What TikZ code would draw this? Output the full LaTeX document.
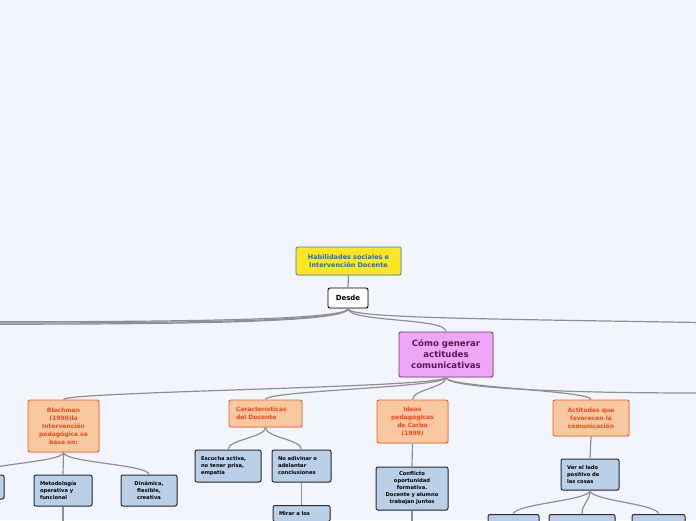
\documentclass[tikz,border=0pt]{standalone}
\usepackage{fontspec}
\setmainfont{DejaVu Sans}
\usetikzlibrary{shadows}
\definecolor{bg}{HTML}{F3F5FE}
\definecolor{habfill}{HTML}{FFE61E}
\definecolor{habline}{HTML}{3D7FC8}
\definecolor{habtext}{HTML}{1F6ACF}
\definecolor{comofill}{HTML}{F0A6F8}
\definecolor{comoline}{HTML}{7A3C78}
\definecolor{comotext}{HTML}{531A55}
\definecolor{orfill}{HTML}{F8C8A0}
\definecolor{orline}{HTML}{FF5A28}
\definecolor{ortext}{HTML}{FF4612}
\definecolor{blfill}{HTML}{BACFE8}
\definecolor{blline}{HTML}{2B2B30}
\definecolor{conn}{HTML}{8E8E98}
\begin{document}
\begin{tikzpicture}[x=1pt,y=-1pt,
 base/.style={rounded corners=2pt, inner ysep=0pt, drop shadow={shadow xshift=0.7pt,shadow yshift=-0.7pt,opacity=0.3}},
 habbox/.style={base, fill=habfill, draw=habline, line width=0.8pt, text=habtext, font=\bfseries\fontsize{6.5}{8}\selectfont, align=center},
 desdebox/.style={base, fill=white, draw=black, line width=0.9pt, font=\bfseries\fontsize{7}{8}\selectfont},
 comobox/.style={base, fill=comofill, draw=comoline, line width=0.9pt, text=comotext, font=\bfseries\fontsize{8.6}{11}\selectfont, align=center},
 orbox/.style={base, fill=orfill, draw=orline, line width=0.9pt, text=ortext, font=\bfseries\fontsize{6}{8}\selectfont},
 blbox/.style={base, fill=blfill, draw=blline, line width=1pt, text=black, font=\bfseries\fontsize{5.2}{7}\selectfont},
 link/.style={draw=conn, line width=1.2pt},
]
\path[use as bounding box, fill=bg] (0,0) rectangle (696,520);
\clip (0,0) rectangle (696,520);

% nodes
\node[habbox, minimum width=105, minimum height=28, text width=101, inner xsep=2] (hab) at (348.5,261) {Habilidades sociales e\\Intervención Docente};
\node[desdebox, minimum width=40, minimum height=20] (desde) at (348,298) {Desde};
\node[comobox, minimum width=94, minimum height=45, text width=90, inner xsep=2] (como) at (446,354.5) {Cómo generar\\actitudes\\comunicativas};

\node[orbox, align=center, minimum width=71, minimum height=52, text width=67, inner xsep=2] (blech) at (63.5,426) {Blechman\\(1990)la\\Intervención\\pedagógica se\\basa en:};
\node[orbox, align=left, minimum width=73, minimum height=27, text width=59, inner xsep=7] (carac) at (265.5,413.5) {Características\\del Docente};
\node[orbox, align=center, minimum width=71, minimum height=43, text width=67, inner xsep=2] (ideas) at (412.5,421.5) {Ideas\\pedagógicas\\de Carbo\\(1999)};
\node[orbox, align=center, minimum width=76, minimum height=36, text width=72, inner xsep=2] (actit) at (591,418) {Actitudes que\\favorecen la\\comunicación};

\node[blbox, minimum width=56, minimum height=24] (lpart) at (-24,487) {};
\node[blbox, align=left, minimum width=58, minimum height=31, text width=46, inner xsep=6] (metod) at (63,490.5) {Metodología\\operativa y\\funcional};
\node[blbox, align=center, minimum width=56, minimum height=31, text width=52, inner xsep=2] (dinam) at (149,490.5) {Dinámica,\\flexible,\\creativa};
\node[blbox, align=left, minimum width=66, minimum height=32, text width=54, inner xsep=6] (escucha) at (228,466) {Escucha activa,\\no tener prisa,\\empatía};
\node[blbox, align=left, minimum width=59, minimum height=32, text width=47, inner xsep=6] (noadiv) at (301.5,466) {No adivinar o\\adelantar\\conclusiones};
\node[blbox, align=left, anchor=north, minimum width=57, text width=45, inner xsep=6, inner ysep=6] (mirar) at (301.5,505) {Mirar a los};
\node[blbox, align=center, minimum width=72, minimum height=43, text width=68, inner xsep=2] (confl) at (412,488.5) {Conflicto\\oportunidad\\formativa.\\Docente y alumno\\trabajan juntos};
\node[blbox, align=left, minimum width=58, minimum height=31, text width=46, inner xsep=6] (ver) at (590,474.5) {Ver el lado\\positivo de\\las cosas};
\node[blbox, anchor=north, minimum width=51, minimum height=24] (b1) at (513.5,514) {};
\node[blbox, anchor=north, minimum width=66, minimum height=24] (b2) at (582,514) {};
\node[blbox, anchor=north, minimum width=53, minimum height=24] (b3) at (658.5,514) {};

% free ends
\coordinate (L1) at (-5,321.8);
\coordinate (L2) at (-5,323);
\coordinate (L3) at (-5,324.2);
\coordinate (R1) at (700,322.5);
\coordinate (R2) at (700,393);
\coordinate (D1) at (63,530);
\coordinate (D2) at (412,530);

% connectors
\draw[link] (hab.south) -- (desde.north);
\draw[link] (desde.south) .. controls +(0,11) and +(200,0) .. (L1);
\draw[link] (desde.south) .. controls +(0,12) and +(220,0) .. (L2);
\draw[link] (desde.south) .. controls +(0,12) and +(240,0) .. (L3);
\draw[link] (desde.south) .. controls +(0,9) and +(-250,-4) .. (R1);
\draw[link] (desde.south) .. controls +(0,14) and +(0,-14) .. (como.north);

\draw[link] (como.south) .. controls +(0,10) and +(0,-8) .. (blech.north);
\draw[link] (como.south) .. controls +(0,10) and +(0,-9) .. (carac.north);
\draw[link] (como.south) .. controls +(0,10) and +(0,-10) .. (ideas.north);
\draw[link] (como.south) .. controls +(0,10) and +(0,-9) .. (actit.north);
\draw[link] (como.south) .. controls +(0,10) and +(-150,0) .. (R2);

\draw[link] (blech.south) .. controls +(0,10) and +(0,-10) .. (lpart.north);
\draw[link] (blech.south) -- (metod.north);
\draw[link] (blech.south) .. controls +(0,10) and +(0,-10) .. (dinam.north);
\draw[link] (metod.south) -- (D1);

\draw[link] (carac.south) .. controls +(0,10) and +(0,-10) .. (escucha.north);
\draw[link] (carac.south) .. controls +(0,10) and +(0,-10) .. (noadiv.north);
\draw[link] (noadiv.south) -- (mirar.north);

\draw[link] (ideas.south) -- (confl.north);
\draw[link] (confl.south) -- (D2);

\draw[link] (actit.south) -- (ver.north);
\draw[link] (ver.south) .. controls +(0,10) and +(0,-10) .. (b1.north);
\draw[link] (ver.south) .. controls +(0,10) and +(0,-10) .. (b2.north);
\draw[link] (ver.south) .. controls +(0,10) and +(0,-10) .. (b3.north);
\end{tikzpicture}
\end{document}
